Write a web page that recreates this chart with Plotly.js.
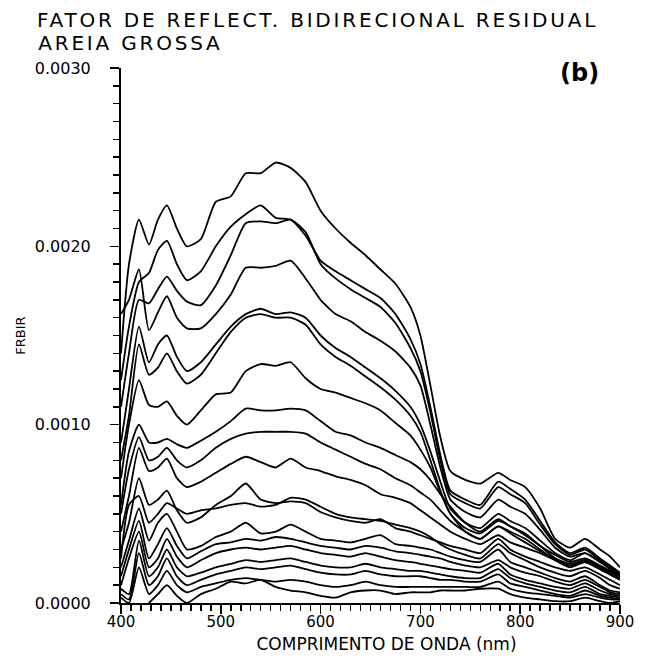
<!DOCTYPE html>
<html>
<head>
<meta charset="utf-8">
<script src="https://cdn.plot.ly/plotly-3.0.1.min.js"></script>
<style>
  html, body { margin: 0; padding: 0; background: #ffffff; }
  #chart { width: 650px; height: 661px; }
  #chart .gtitle { letter-spacing: 2.8px; }
  #chart g.annotation[data-index="0"] text { letter-spacing: 2.8px; }
  #chart .xtitle { transform: translate(16px, 3px); }
</style>
</head>
<body>
<div id="chart"></div>
<script>
// Wavelength grid (nm)
const wavelengths = [400,408,418,428,437,446,456,466,480,495,510,525,540,555,570,585,600,615,630,645,660,675,690,700,710,720,730,745,760,778,790,805,820,835,850,865,880,890,900];

// Residual bidirectional reflectance factor, in units of 1e-4
const curve01 = [14.0,19.0,21.5,20.1,21.5,22.3,21.0,20.0, 20.4,22.5,22.8,24.1,24.1,24.7,24.4,23.6,22.0, 21.0,20.2,19.5,18.7,17.9,16.6, 15.0,12.2,9.3,7.4,6.9,6.7,7.3, 6.9,6.5,5.3,3.6,3.1,3.6,3.0,2.6,2.0];
const curve02 = [12.5,15.5,18.0,18.5,19.8,20.3,19.0,18.1, 18.6,20.0,21.1,21.8,22.3,21.6,21.5,20.6,19.2, 18.6,18.1,17.6,17.1,16.2,14.8, 13.4,11.0,8.3,6.3,5.8,5.5,6.8, 6.4,5.8,4.6,3.4,2.8,3.1,2.5,2.1,1.7];
const curve03 = [11.0,14.0,17.0,16.8,17.6,18.3,17.5,16.9, 16.7,17.8,19.5,21.3,21.4,21.3,21.5,20.8,19.0, 18.2,17.6,17.1,16.6,15.7,14.3, 13.0,10.7,8.0,6.1,5.6,5.3,6.5, 6.1,5.6,4.4,3.3,2.7,3.0,2.4,2.0,1.6];
const curve04 = [16.2,17.0,18.7,15.3,16.3,17.2,16.0,15.4, 15.4,16.2,17.3,18.8,18.8,18.9,19.2,18.2,17.0, 16.2,15.8,15.2,14.7,14.1,13.2, 12.2,10.0,7.6,5.8,5.1,4.8,5.8, 5.4,5.0,4.1,3.1,2.6,2.8,2.3,1.9,1.5];
const curve05 = [9.0,12.0,15.5,13.5,14.5,15.0,13.8,13.0, 13.5,14.5,15.5,16.2,16.5,16.2,16.3,16.0,15.0, 14.3,13.8,13.2,12.6,11.9,11.0, 10.0,8.5,6.8,5.3,4.5,4.2,5.0, 4.6,4.2,3.5,2.8,2.4,2.8,2.3,2.0,1.6];
const curve06 = [8.0,10.5,14.5,12.8,13.2,14.0,13.0,12.3, 12.8,14.0,15.2,16.0,16.2,16.0,16.0,15.6,14.5, 13.8,13.3,12.7,12.1,11.4,10.5, 9.6,8.0,6.3,5.0,4.2,3.9,4.6, 4.3,3.9,3.2,2.5,2.1,2.4,2.0,1.7,1.4];
const curve07 = [7.0,10.0,12.5,11.1,11.0,11.3,10.5,10.0, 10.8,11.7,11.8,13.0,13.4,13.3,13.5,12.6,12.0, 11.8,11.5,11.2,10.8,10.1,9.4, 8.6,7.6,6.2,5.0,4.0,3.6,4.3, 4.0,3.6,3.0,2.4,2.0,2.3,1.9,1.6,1.3];
const curve08 = [5.5,8.5,10.0,9.0,9.0,9.2,8.9,8.7, 9.1,9.6,10.2,10.9,10.8,10.8,10.9,10.8,10.2, 9.6,9.4,9.0,8.7,8.3,7.9, 7.5,6.9,6.1,5.4,4.5,4.0,4.7, 4.3,3.8,3.2,2.7,2.3,2.5,2.1,1.8,1.5];
const curve09 = [5.0,7.5,9.3,8.0,8.2,8.7,8.0,7.6, 8.0,8.7,9.2,9.5,9.6,9.6,9.6,9.5,9.0, 8.6,8.2,7.8,7.5,7.0,6.6, 6.2,5.8,5.2,4.6,4.0,3.6,4.3, 3.9,3.4,2.9,2.5,2.2,2.4,2.0,1.8,1.5];
const curve10 = [4.0,6.0,8.7,7.4,7.6,8.1,7.0,6.5, 6.8,7.3,7.8,8.2,7.9,7.6,8.1,7.6,7.4, 7.1,6.9,6.6,6.1,5.9,5.6, 5.2,4.8,4.4,4.0,3.6,3.3,3.8, 3.4,3.1,2.8,2.4,2.1,2.3,1.9,1.6,1.3];
const curve11 = [3.0,4.5,7.0,5.5,5.8,6.3,5.2,4.5, 4.8,5.5,6.0,6.7,5.8,5.6,5.7,5.6,5.1, 4.8,4.6,4.5,4.7,4.2,4.0, 3.8,3.6,3.4,3.2,3.0,2.8,3.6, 3.0,2.6,2.3,2.0,1.8,2.0,1.6,1.3,1.0];
const curve12 = [2.5,5.5,6.0,4.5,5.0,5.6,5.3,5.0, 5.2,5.3,5.5,5.6,5.4,5.5,5.9,5.8,5.4, 5.0,4.8,4.7,4.6,4.4,4.2, 4.0,3.7,3.3,3.0,2.7,2.5,3.3, 2.8,2.4,2.0,1.7,1.5,1.8,1.4,1.0,0.8];
const curve13 = [2.0,3.5,5.3,3.5,4.5,5.0,4.0,3.0, 3.2,3.7,4.0,4.5,3.9,4.0,4.4,4.0,3.6, 3.5,3.4,3.6,3.8,3.3,3.2, 3.1,3.0,2.8,2.6,2.4,2.3,3.0, 2.3,2.0,1.7,1.4,1.2,1.5,1.0,0.7,0.6];
const curve14 = [1.5,3.0,4.6,2.5,3.3,4.2,3.2,2.5, 2.9,3.3,3.4,3.6,3.5,3.7,3.6,3.4,3.2, 3.1,3.0,3.2,3.1,2.9,2.8, 2.7,2.6,2.5,2.3,2.1,2.0,2.4, 2.0,1.7,1.5,1.2,1.0,1.3,0.9,0.6,0.5];
const curve15 = [1.0,2.5,4.0,2.0,2.5,3.6,2.6,2.0, 2.4,2.8,3.0,3.1,3.0,3.1,3.2,3.0,2.8, 2.7,2.6,2.8,2.6,2.4,2.3, 2.2,2.1,2.0,1.9,1.8,1.7,2.2, 1.6,1.3,1.1,0.9,0.8,1.1,0.7,0.5,0.4];
const curve16 = [0.8,0.5,3.5,1.5,2.0,3.0,2.0,1.5, 1.7,2.0,2.2,2.4,2.3,2.4,2.5,2.3,2.1, 2.0,2.0,2.2,2.0,1.9,1.8, 1.8,1.7,1.6,1.5,1.4,1.4,1.9, 1.4,1.1,0.9,0.7,0.6,0.9,0.5,0.4,0.3];
const curve17 = [0.5,0.2,2.8,1.0,1.5,2.5,1.5,1.0, 1.3,1.6,1.8,2.0,1.9,2.0,2.1,1.9,1.7, 1.6,1.6,1.8,1.6,1.5,1.5, 1.5,1.4,1.3,1.3,1.2,1.2,1.6, 1.1,0.9,0.7,0.5,0.4,0.7,0.4,0.3,0.2];
const curve18 = [0.3,0.0,2.0,0.5,1.0,1.8,1.0,0.6, 0.9,1.1,1.3,1.4,1.3,1.2,1.3,1.2,1.0, 0.9,1.0,1.2,1.0,0.9,0.9, 0.9,0.9,0.9,0.9,0.9,0.9,1.2, 0.8,0.6,0.5,0.4,0.3,0.5,0.3,0.2,0.2];
const curve19 = [null,null,null,0.0,0.5,1.0,0.4,0.0, 0.5,0.8,1.2,1.1,1.3,0.9,0.7,0.6,0.4, 0.3,0.6,0.7,0.7,0.5,0.6, 0.6,0.6,0.7,0.7,0.7,0.8,0.8, 0.5,0.3,0.2,0.1,0.1,0.3,0.1,0.0,0.1];

const valueUnit = 1e-4;
const curves = [curve01,curve02,curve03,curve04,curve05,curve06,curve07,curve08,curve09,curve10,
                curve11,curve12,curve13,curve14,curve15,curve16,curve17,curve18,curve19];

const titleLine1 = 'FATOR DE REFLECT. BIDIRECIONAL RESIDUAL';
const titleLine2 = 'AREIA GROSSA';
const xTitle = 'COMPRIMENTO DE ONDA (nm)';
const yTitle = 'FRBIR';
const panelLabel = '(b)';

const traces = curves.map(c => ({
  type: 'scatter',
  mode: 'lines',
  x: wavelengths,
  y: c.map(v => v === null ? null : v * valueUnit),
  line: { color: '#000000', width: 1.8, shape: 'spline', smoothing: 0.6 },
  connectgaps: false,
  hoverinfo: 'skip',
  showlegend: false
}));

const font = 'DejaVu Sans, Liberation Sans, Arial, sans-serif';

const layout = {
  width: 650,
  height: 661,
  paper_bgcolor: '#ffffff',
  plot_bgcolor: '#ffffff',
  margin: { l: 121, r: 30, t: 68, b: 58 },
  showlegend: false,
  font: { family: font, color: '#000000' },
  title: {
    text: titleLine1,
    x: 37 / 650, xref: 'container', xanchor: 'left',
    y: 1 - 13 / 661, yref: 'container', yanchor: 'top',
    font: { family: font, size: 20, color: '#000000' }
  },
  xaxis: {
    range: [400, 900],
    dtick: 100,
    tick0: 400,
    showgrid: false,
    zeroline: false,
    showline: true,
    linecolor: '#000000',
    linewidth: 2,
    ticks: 'outside',
    ticklen: 9,
    tickwidth: 1.5,
    tickcolor: '#000000',
    ticklabelstandoff: -5,
    tickfont: { family: font, size: 15, color: '#000000' },
    minor: { dtick: 10, tick0: 400, ticks: 'outside', ticklen: 6, tickwidth: 1.5, tickcolor: '#000000', showgrid: false },
    title: { text: xTitle, font: { family: font, size: 17, color: '#000000' }, standoff: 0 },
    fixedrange: true
  },
  yaxis: {
    range: [0, 0.003],
    dtick: 0.001,
    tick0: 0,
    tickformat: '.4f',
    showgrid: false,
    zeroline: false,
    showline: true,
    linecolor: '#000000',
    linewidth: 2,
    ticks: 'outside',
    ticklen: 9,
    tickwidth: 1.5,
    tickcolor: '#000000',
    ticklabelstandoff: 16,
    tickfont: { family: font, size: 16, color: '#000000' },
    minor: { dtick: 0.0001, tick0: 0, ticks: 'outside', ticklen: 6, tickwidth: 1.5, tickcolor: '#000000', showgrid: false },
    title: { text: yTitle, font: { family: font, size: 13, color: '#000000' }, standoff: 6 },
    fixedrange: true
  },
  annotations: [{
    text: titleLine2,
    xref: 'paper', yref: 'paper',
    x: (53 - 121) / 499, y: 1 + (68 - 43) / 535,
    xanchor: 'left', yanchor: 'middle',
    showarrow: false,
    font: { family: font, size: 20, color: '#000000' }
  }, {
    text: '<b>' + panelLabel + '</b>',
    xref: 'paper', yref: 'paper',
    x: 0.962, y: 0.99,
    xanchor: 'right', yanchor: 'middle',
    showarrow: false,
    font: { family: font, size: 24, color: '#000000' }
  }]
};

Plotly.newPlot('chart', traces, layout, { staticPlot: true, displayModeBar: false });
</script>
</body>
</html>
